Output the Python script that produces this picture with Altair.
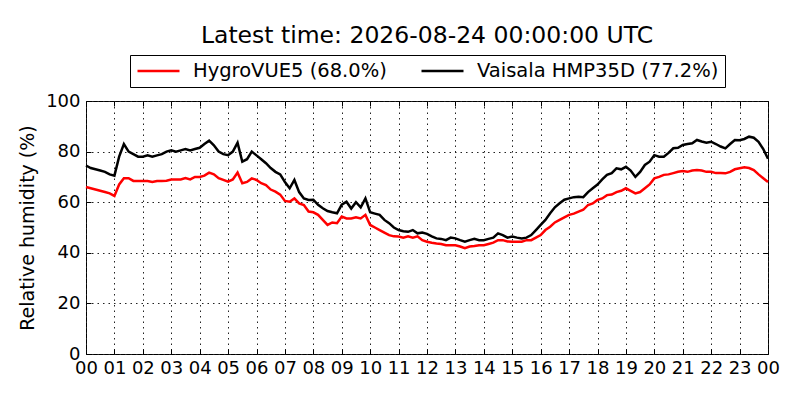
import altair as alt
import pandas as pd

# Relative humidity (%), 10-minute samples from 00:00 to 24:00
vaisala = [
    74.5, 73.5, 73.0, 72.5, 72.0, 71.0,
    70.5, 78.0, 83.0, 80.0, 79.0, 78.0,
    78.0, 78.5, 78.0, 78.5, 79.0, 80.0,
    80.5, 80.0, 80.5, 81.0, 80.5, 81.0,
    81.5, 83.0, 84.3, 82.5, 80.0, 79.0,
    78.6, 80.0, 83.5, 76.0, 77.0, 80.0,
    78.5, 77.0, 75.4, 73.5, 72.0, 71.0,
    68.0, 65.5, 68.8, 64.0, 61.5, 60.9,
    61.0, 59.0, 57.6, 56.5, 56.0, 55.6,
    59.0, 60.2, 57.5, 60.0, 58.0, 61.5,
    56.0, 55.5, 55.0, 53.0, 51.7, 50.0,
    49.0, 48.5, 48.3, 49.0, 47.7, 48.0,
    47.5, 46.5, 45.7, 45.5, 45.0, 46.0,
    45.7, 45.0, 44.4, 45.0, 45.5, 45.0,
    45.0, 45.5, 46.0, 47.7, 47.0, 46.0,
    46.4, 46.0, 45.7, 46.0, 47.0, 49.0,
    51.0, 53.0, 55.6, 58.0, 59.6, 61.0,
    61.5, 62.0, 62.2, 62.0, 64.0, 65.5,
    67.0, 69.0, 70.8, 71.5, 73.4, 73.0,
    74.0, 72.5, 70.0, 72.0, 74.7, 76.0,
    78.6, 78.0, 78.0, 79.5, 81.3, 81.5,
    82.6, 83.0, 83.3, 84.6, 84.0, 83.5,
    83.9, 83.0, 82.0, 81.3, 83.0, 84.6,
    84.5, 85.0, 85.9, 85.5, 83.9, 81.0,
    77.2,
]
hygro = [
    66.0, 65.5, 65.0, 64.5, 64.0, 63.5,
    62.5, 67.0, 69.5, 69.5, 68.4, 68.4,
    68.4, 68.4, 68.0, 68.4, 68.4, 68.5,
    69.0, 69.0, 69.0, 69.5, 69.0, 70.0,
    70.0, 70.5, 71.7, 71.0, 69.5, 68.8,
    68.1, 69.0, 71.7, 67.5, 68.0, 69.4,
    68.8, 67.5, 66.8, 65.0, 64.2, 63.0,
    60.5, 60.2, 61.5, 59.5, 58.9, 56.3,
    56.0, 55.0, 53.0, 51.0, 52.0, 51.7,
    54.3, 53.6, 53.6, 54.0, 53.6, 55.0,
    51.0, 50.0, 49.0, 48.0, 47.0, 46.5,
    46.4, 46.0, 46.5, 46.0, 46.5, 45.0,
    44.4, 44.0, 43.7, 43.5, 43.0, 43.0,
    43.0, 42.5, 41.8, 42.5, 42.7, 43.0,
    43.0, 43.5, 44.0, 45.0, 45.0, 44.5,
    44.4, 44.4, 44.4, 45.0, 45.0, 46.0,
    47.0, 49.0, 50.3, 52.0, 53.0, 54.0,
    55.0, 55.5, 56.3, 57.0, 58.9, 59.5,
    60.9, 61.5, 62.8, 63.0, 64.0, 64.5,
    65.5, 64.5, 63.5, 64.0, 65.5, 67.0,
    69.4, 70.0, 70.8, 71.0, 71.5, 72.0,
    72.3, 72.0, 72.5, 72.7, 72.5, 72.0,
    72.0, 71.5, 71.5, 71.4, 72.0, 73.0,
    73.4, 73.8, 73.5, 72.7, 71.0, 69.5,
    68.0,
]
series_names = ["HygroVUE5 (68.0%)", "Vaisala HMP35D (77.2%)"]
series_colors = ["#ff0000", "#000000"]
hour_ticks = list(range(25))
rh_ticks = [0, 20, 40, 60, 80, 100]
title_text = "Latest time: 2026-08-24 00:00:00 UTC"

n = len(vaisala)
hours = [i * 10 / 60 for i in range(n)]
df = pd.DataFrame({
    "hour": hours + hours,
    "rh": hygro + vaisala,
    "series": [series_names[0]] * n + [series_names[1]] * n,
})

W, H = 682, 253
xs = alt.Scale(domain=[0, 24], nice=False, zero=False)
ys = alt.Scale(domain=[0, 100], nice=False)
label_expr = "(datum.value % 24) < 10 ? '0' + (datum.value % 24) : '' + (datum.value % 24)"

lines = alt.Chart(df).mark_line(strokeWidth=2.5).encode(
    x=alt.X("hour:Q", scale=xs, axis=alt.Axis(
        orient="bottom", values=hour_ticks, labelExpr=label_expr, tickSize=0,
        grid=True, gridDash=[1.5, 4], gridColor="#222222", gridOpacity=1,
        labelFontSize=18, labelPadding=5, labelColor="#000000", domain=False,
        labelFlush=False, labelOverlap=False, title=None)),
    y=alt.Y("rh:Q", scale=ys, axis=alt.Axis(
        orient="left", values=rh_ticks, tickSize=0,
        grid=True, gridDash=[1.5, 4], gridColor="#222222", gridOpacity=1,
        labelFontSize=18, labelPadding=6, labelColor="#000000", domain=False,
        title="Relative humidity (%)", titleFontSize=19, titleFontWeight="normal",
        titleColor="#000000", titlePadding=8)),
    color=alt.Color("series:N", scale=alt.Scale(domain=series_names, range=series_colors),
                    legend=alt.Legend(
                        title=None, orient="none", legendX=44, legendY=-46,
                        direction="horizontal", gridAlign="none", clipHeight=20,
                        symbolType="stroke", symbolSize=1764,
                        symbolStrokeWidth=2.5, labelFontSize=19.5, labelColor="#000000",
                        labelOffset=12, columnPadding=33, padding=6, labelLimit=400,
                        strokeColor="#000000", fillColor="#ffffff", cornerRadius=0)),
)

ticks_a = alt.Chart(df).mark_line(opacity=0).encode(
    x=alt.X("hour:Q", scale=xs, axis=alt.Axis(
        orient="top", offset=-H, values=hour_ticks, labels=False, domain=False,
        grid=False, tickSize=5, tickColor="#000000", title=None)),
    y=alt.Y("rh:Q", scale=ys, axis=alt.Axis(
        orient="right", offset=-W, values=rh_ticks, labels=False, domain=False,
        grid=False, tickSize=5, tickColor="#000000", title=None)),
    detail="series:N",
)

ticks_b = alt.Chart(df).mark_line(opacity=0).encode(
    x=alt.X("hour:Q", scale=xs, axis=alt.Axis(
        orient="bottom", offset=-H, values=hour_ticks, labels=False, domain=False,
        grid=False, tickSize=5, tickColor="#000000", title=None)),
    y=alt.Y("rh:Q", scale=ys, axis=alt.Axis(
        orient="left", offset=-W, values=rh_ticks, labels=False, domain=False,
        grid=False, tickSize=5, tickColor="#000000", title=None)),
    detail="series:N",
)

chart = alt.layer(lines, ticks_a, ticks_b).resolve_axis(
    x="independent", y="independent"
).properties(
    width=W, height=H,
    autosize=alt.AutoSizeParams(type="none"),
    padding={"left": 78, "top": 93, "right": 24, "bottom": 38},
    title=alt.Title(title_text, fontSize=23.5, fontWeight="normal", color="#000000",
                    anchor="middle", frame="group", offset=7),
).configure(
    font="DejaVu Sans"
).configure_view(
    stroke="#000000", strokeWidth=1
)

chart.save("out.html", embed_options={"renderer": "svg", "actions": False})
